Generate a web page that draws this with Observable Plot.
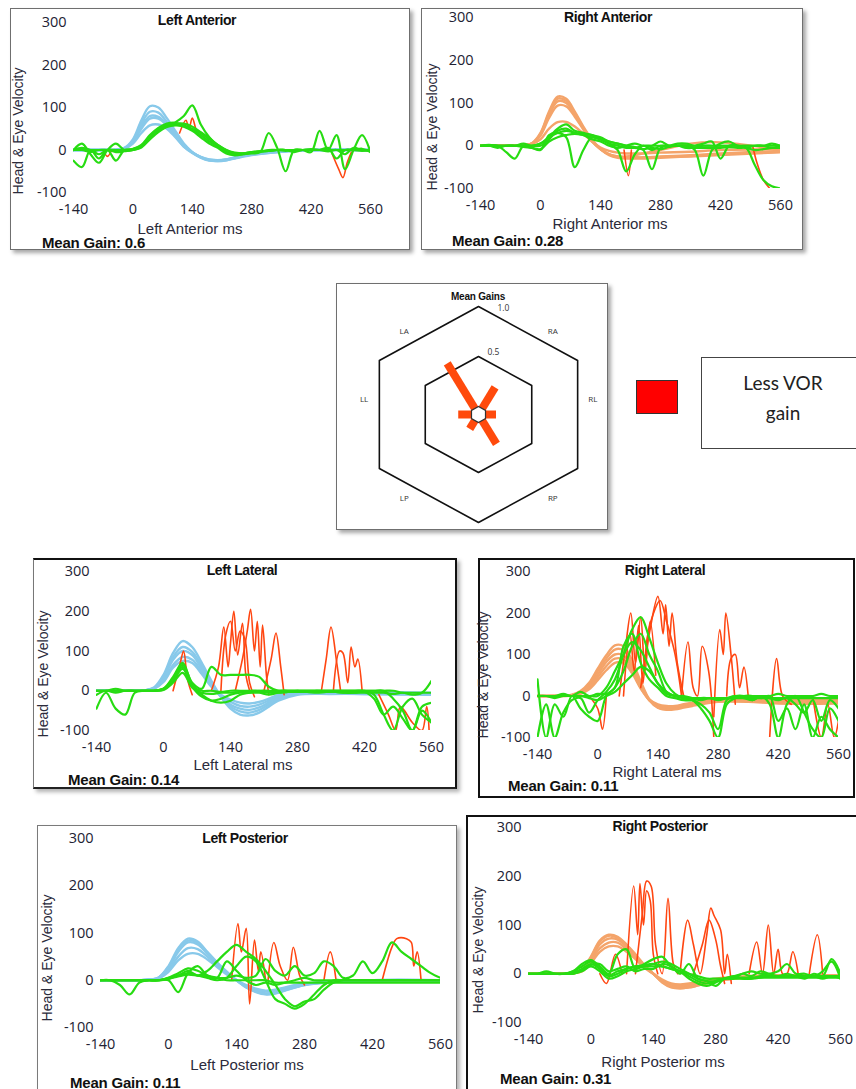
<!DOCTYPE html>
<html><head><meta charset="utf-8">
<script src="https://cdn.jsdelivr.net/npm/d3@7"></script>
<script src="https://cdn.jsdelivr.net/npm/@observablehq/plot@0.6"></script>
<style>
html,body{margin:0;padding:0;background:#fff;}
body{width:856px;height:1089px;position:relative;overflow:hidden;font-family:"Liberation Sans",Arial,sans-serif;}
.panel{position:absolute;background:#fff;}
.panel svg{position:absolute;left:0;top:0;overflow:visible;}
.frame{position:absolute;left:0;top:0;right:0;bottom:0;box-sizing:border-box;pointer-events:none;}
.t{position:absolute;white-space:nowrap;transform:translate(-50%,-50%);color:#111;}
.title{font-weight:bold;font-size:14px;letter-spacing:-0.4px;}
.mg{font-weight:bold;font-size:15px;letter-spacing:-0.2px;transform:translate(0,-50%);}
.xl{font-size:15px;color:#2b2b3b;}
.yl{font-size:14px;color:#2b2b3b;transform:translate(-50%,-50%) rotate(-90deg);}
</style></head>
<body>
<script>
// ---------------- DATA ----------------
const tickX = [-140, 0, 140, 280, 420, 560];
const tickY = [-100, 0, 100, 200, 300];
const panelTitles = ["Left Anterior", "Right Anterior", "Left Lateral", "Right Lateral", "Left Posterior", "Right Posterior"];
const axisTitles = ["Left Anterior ms", "Right Anterior ms", "Left Lateral ms", "Right Lateral ms", "Left Posterior ms", "Right Posterior ms"];
const yTitle = "Head & Eye Velocity";
const meanGains = ["0.6", "0.28", "0.14", "0.11", "0.11", "0.31"];

// head-velocity sample times (ms)
const tHead = [-140,-100,-60,-40,-20,0,20,40,60,80,100,120,140,160,180,200,220,240,280,350,420,560];
// eye-velocity sample times (ms)
const tEye = [-140,-120,-100,-80,-60,-40,-20,0,20,40,60,80,
              100,120,140,160,180,200,220,240,260,280,300,320,
              340,360,380,400,420,440,460,480,500,520,540,560];

// Left Anterior
const laHead = [
  [0,0,0,1,5,25,70,103,100,75,45,15,-5,-18,-25,-26,-24,-20,-12,-4,-1,0],
  [0,0,0,1,4,20,55,80,78,60,35,10,-6,-17,-23,-24,-22,-18,-10,-3,0,0],
  [0,0,0,0,3,18,50,74,74,58,33,8,-7,-18,-24,-25,-23,-18,-10,-3,0,0],
  [0,0,0,0,3,15,40,58,60,50,30,8,-6,-16,-22,-24,-22,-17,-10,-3,0,0],
  [0,0,0,1,4,22,62,90,88,66,40,12,-5,-17,-24,-26,-24,-19,-11,-4,0,0]
];
const laEye = [
  [-25,-40,0,-20,0,-25,0,2,10,30,48,58, 60,55,45,30,15,5,-8,-12,-10,-6,-4,-2, 0,0,0,0,0,0,0,0,0,0,-2,0],
  [0,15,-10,-30,0,15,0,3,12,35,52,62, 64,58,48,35,20,8,-5,-10,-8,-5,-3,-2, 0,0,0,0,0,0,0,0,0,0,0,0],
  [0,0,-5,0,0,0,0,0,8,28,45,55, 65,80,105,60,30,10,-5,-12,-10,-8,-5,40, 5,-50,0,0,-5,45,0,35,-45,0,35,-5],
  [0,5,0,-10,0,-5,-3,0,6,25,42,54, 58,56,50,40,25,12,0,-8,-8,-5,-3,-2, 0,-2,0,0,2,0,5,-20,0,0,3,-5],
  [0,0,0,0,0,0,-2,0,10,32,50,60, 62,62,55,42,28,12,0,-6,-8,-6,-4,0, 0,0,-5,0,0,0,-3,0,-10,5,0,-2]
];
const laSacc = [
  [[-70,0],[-60,-15],[-50,0]],
  [[110,40],[125,70],[132,50],[140,75],[150,45],[160,30]],
  [[470,-10],[485,-45],[495,-65],[505,-30],[515,-5]]
];

// Right Anterior
const raHead = [
  [0,0,0,1,6,30,80,115,110,80,45,15,-8,-22,-28,-30,-30,-30,-28,-25,-22,-15],
  [0,0,0,1,5,26,72,104,100,72,40,12,-8,-20,-26,-28,-28,-28,-26,-24,-20,-14],
  [0,0,0,1,5,24,65,94,92,68,38,10,-8,-20,-25,-27,-27,-27,-25,-22,-18,-12],
  [0,0,0,1,4,15,40,55,56,45,28,10,-4,-12,-16,-18,-18,-18,-16,-14,-10,-8],
  [0,0,0,1,5,28,76,110,105,76,42,12,-8,-20,-25,-25,-22,-18,-10,5,8,-10]
];
const raEye = [
  [0,0,0,-15,-30,0,0,5,20,40,50,35, 30,25,20,10,5,0,-5,0,0,0,0,0, 0,-5,0,0,0,0,0,0,0,0,-5,0],
  [0,0,-5,0,0,0,-5,-10,25,30,20,-50, -10,20,15,5,-10,-60,-20,0,-10,0,0,0, 0,-10,-70,-10,5,10,0,0,0,0,5,0],
  [0,2,0,0,0,0,0,0,15,35,40,30, 28,25,15,5,0,-5,-5,-10,-55,-5,0,5, 5,0,0,0,0,0,0,-5,-45,-80,-95,-100],
  [0,0,0,0,0,5,0,5,20,30,35,30, 25,15,10,0,-5,0,5,0,0,10,0,0, 0,0,5,10,-30,0,0,-5,0,0,0,0],
  [0,0,0,0,0,-3,-5,-8,10,20,25,28, 25,20,15,10,5,0,-3,-8,-5,-8,-3,0, -5,-5,-5,-5,-5,-3,-5,-5,-10,-8,-5,-5]
];
const raSacc = [
  [[195,-10],[205,-70],[212,-10]],
  [[495,0],[505,-40],[520,-80],[535,-100]]
];

// Left Lateral
const llHead = [
  [0,0,0,1,8,40,95,125,110,70,25,-15,-45,-60,-62,-55,-40,-25,-10,-8,-8,-10],
  [0,0,0,1,7,35,85,110,98,62,20,-15,-40,-52,-55,-48,-35,-22,-8,-6,-8,-10],
  [0,0,0,1,6,30,78,100,90,55,15,-15,-35,-45,-48,-42,-30,-18,-6,-5,-6,-8],
  [0,0,0,1,5,25,65,85,78,48,12,-12,-28,-38,-40,-35,-25,-14,-4,-3,-5,-6],
  [0,0,0,1,5,22,58,75,70,42,10,-10,-22,-30,-32,-28,-20,-10,-2,-2,-3,-5]
];
const llEye = [
  [-45,-5,-45,-60,-5,0,0,5,35,70,15,-10, -25,-30,-25,-10,-5,0,0,0,0,0,0,0, 0,0,0,0,0,-10,-60,-100,-40,-20,-60,-80],
  [-10,0,-5,0,0,0,0,5,30,65,20,5, 60,40,40,40,40,35,10,0,0,0,0,0, 0,0,0,0,0,0,0,-20,-50,-100,-40,-30],
  [0,0,0,0,0,0,0,3,25,55,10,-15, -25,-20,-10,-5,-5,-5,-10,-5,-3,0,-3,0, -2,-3,-5,-5,-5,-5,-5,-8,-5,-10,-5,25],
  [0,0,0,0,0,0,0,2,20,45,8,-5, -8,-5,-5,-3,-3,-3,-5,-5,-3,-3,-3,-5, -3,-3,-5,-5,-3,-20,-60,-40,-70,-100,-50,-80],
  [0,0,5,0,0,0,0,5,28,60,12,0, 0,-3,0,0,0,0,-3,0,0,0,0,0, 0,0,0,0,0,0,0,0,-5,-5,-5,-5]
];
const llSacc = [
  [[100,0],[115,60],[126,160],[135,60],[140,120],[147,200],[155,90],[165,170],[172,40],[180,0]],
  [[150,0],[165,80],[175,150],[182,205],[190,100],[196,175],[202,60],[207,165],[215,40],[220,-10]],
  [[210,0],[225,80],[235,145],[245,60],[252,-10]],
  [[120,0],[130,140],[140,175],[150,100],[160,150],[170,130],[180,20],[190,-15]],
  [[330,0],[340,80],[350,160],[362,70],[370,0]],
  [[355,0],[368,100],[375,95],[385,20],[392,110],[400,60],[406,80],[415,0]],
  [[20,0],[35,70],[42,100],[50,30],[60,-10]],
  [[450,-10],[470,-60],[485,-100],[495,-40],[520,-80],[540,-100],[550,-40],[555,-100]]
];

// Right Lateral
const rlHead = [
  [0,0,2,10,28,60,90,112,110,75,30,-10,-28,-32,-30,-26,-22,-18,-12,-12,-15,-15],
  [0,0,2,8,24,52,82,100,98,68,25,-10,-25,-30,-28,-24,-20,-16,-10,-10,-12,-12],
  [0,0,1,6,20,45,72,90,88,60,20,-10,-22,-27,-26,-22,-18,-14,-8,-8,-10,-10],
  [0,0,1,5,16,38,62,80,80,55,18,-8,-20,-24,-24,-20,-16,-12,-6,-6,-8,-8],
  [0,0,3,12,32,66,98,122,120,85,35,-8,-28,-33,-32,-28,-24,-20,-14,-14,-18,-18]
];
const rlEye = [
  [40,-100,-20,-50,0,-30,-50,-60,0,20,60,120, 150,100,60,10,0,-5,-10,-20,-40,-80,-10,0, 0,-10,0,-20,-100,-20,0,-40,-80,-100,-30,-60],
  [-100,-20,-100,-40,-10,-5,-40,-10,10,40,100,160, 190,140,80,30,5,-5,-10,-30,-60,-100,-20,-5, 0,0,-5,0,-60,-30,-80,-20,-100,-50,-80,-100],
  [0,0,0,0,0,0,0,0,20,60,100,130, 110,70,30,5,0,-5,-5,-5,-5,-5,-5,-5, -5,-5,-5,-5,-5,-5,-5,-5,-5,-5,-5,-5],
  [0,0,-5,0,0,0,-5,-10,0,10,30,50, 70,60,30,10,0,0,-5,-10,-5,-10,-5,0, -5,-10,0,-5,-10,-5,-20,-40,-10,-60,-10,-30],
  [0,0,0,5,0,10,0,5,5,20,120,150, 80,40,20,0,-5,-10,-10,-5,-5,-5,-5,-5, 0,0,0,0,5,0,0,0,0,5,0,0]
];
const rlSacc = [
  [[50,0],[65,120],[77,200],[88,80],[100,190],[110,60],[122,180],[135,50]],
  [[100,20],[120,150],[140,240],[152,150],[158,220],[166,120],[173,200],[185,80],[200,0]],
  [[60,0],[75,150],[85,60],[95,170],[105,30],[115,140],[130,200],[145,230],[160,180],[180,100],[195,0]],
  [[195,0],[210,130],[222,20],[232,0],[243,120],[258,60],[270,-100]],
  [[270,-50],[284,160],[292,100],[298,200],[310,100],[320,-20]],
  [[-20,0],[0,-30],[11,-80],[20,0]],
  [[400,-100],[416,90],[430,0],[450,-20]],
  [[500,0],[520,-100],[535,-20],[550,-100],[560,-60]],
  [[300,0],[310,90],[320,100],[330,20],[340,70],[350,0]]
];

// Left Posterior
const lpHead = [
  [0,0,0,1,6,30,68,88,82,60,38,18,0,-15,-25,-30,-28,-22,-10,-3,0,0],
  [0,0,0,1,5,26,60,80,76,56,35,15,0,-14,-23,-28,-26,-20,-9,-3,0,0],
  [0,0,0,1,5,22,50,68,66,50,32,14,0,-12,-20,-24,-22,-17,-8,-2,0,0],
  [0,0,0,1,4,18,42,56,56,44,28,12,0,-10,-18,-22,-20,-15,-7,-2,0,0],
  [0,0,0,1,6,28,64,84,80,58,36,16,0,-15,-24,-29,-27,-21,-10,-3,0,0]
];
const lpEye = [
  [0,0,0,0,0,0,0,5,15,25,20,10, 5,0,0,0,0,0,-5,-5,-5,-5,-5,-5, -5,-5,-5,-5,-5,-5,-5,-5,-5,-5,-5,-5],
  [0,0,-10,-30,-5,0,0,0,-25,15,30,10, 5,40,20,0,-10,-5,-10,-5,0,5,0,0, 0,0,0,0,0,0,0,0,0,0,0,0],
  [0,0,0,0,0,0,0,5,10,20,10,20, 40,60,75,60,45,20,-10,-40,-55,-45,-40,-20, -5,0,0,0,0,0,0,0,0,0,0,0],
  [0,0,0,0,0,0,0,3,10,15,10,5, 0,5,30,50,40,0,-40,-50,-60,-50,-30,-10, 0,0,0,0,0,0,0,0,0,0,0,0],
  [0,0,0,0,0,0,0,3,8,12,10,8, 5,5,10,5,10,45,20,10,30,10,15,40, 30,5,10,40,15,40,80,60,45,30,15,5]
];
const lpSacc = [
  [[130,0],[143,120],[150,60],[160,110],[167,-50],[177,85],[185,20],[190,60],[200,0]],
  [[205,0],[217,80],[230,30],[245,0],[257,70],[270,10],[280,-10]],
  [[320,0],[333,60],[345,0]],
  [[440,0],[460,70],[470,88],[490,88],[500,80],[505,30],[512,60],[520,0]]
];

// Right Posterior
const rpHead = [
  [0,0,0,1,8,35,68,80,76,60,40,18,0,-18,-28,-30,-28,-24,-15,-8,-5,-5],
  [0,0,0,1,7,30,60,72,70,55,36,16,0,-16,-26,-28,-26,-22,-14,-7,-4,-5],
  [0,0,0,1,6,26,52,64,64,50,32,14,0,-14,-22,-25,-23,-20,-12,-6,-4,-4],
  [0,0,0,1,5,22,45,56,56,45,30,12,0,-12,-20,-22,-20,-17,-10,-5,-3,-3],
  [0,0,0,1,8,33,66,78,74,58,38,16,0,-17,-27,-30,-28,-24,-15,-8,-5,-5]
];
const rpEye = [
  [0,0,0,0,0,5,15,25,10,-5,0,10, 15,15,15,15,10,5,-5,-15,-20,-15,-10,-10, -10,-10,-8,-5,-5,-5,-5,-5,-5,-5,-5,-5],
  [0,0,5,0,0,5,20,28,15,0,40,50, 10,20,30,35,15,5,-10,-20,-25,-18,-10,-5, 0,5,0,0,5,20,0,0,-5,5,25,-10],
  [0,0,0,0,0,0,5,15,5,-10,-5,5, 10,15,20,25,20,10,0,-10,-15,-15,-10,-5, -10,-10,-5,-5,-5,-5,-5,-5,-5,-10,-5,-10],
  [0,0,0,0,0,3,10,20,10,-3,5,10, 15,18,20,15,10,5,0,-5,-10,-10,-10,-8, -8,-8,-8,-8,-8,-8,-8,-8,-8,-8,-8,-8],
  [0,0,0,0,0,0,8,18,20,5,10,15, 5,10,10,20,15,0,20,-10,-15,-25,-10,-10, 0,-5,5,0,-5,0,-5,-10,0,-5,30,0]
];
const rpSacc = [
  [[80,0],[96,180],[105,80],[110,185],[118,100],[125,170],[133,150],[140,40],[150,0]],
  [[100,0],[115,120],[125,190],[135,180],[145,60],[160,0],[173,155],[185,20],[195,0]],
  [[200,0],[217,110],[230,60],[245,0],[260,80],[269,135],[276,120],[291,90],[300,0],[306,40],[315,-20]],
  [[355,0],[372,65],[385,0],[398,100],[410,0],[420,50],[430,0],[440,0],[453,45],[465,0]],
  [[490,0],[508,80],[520,0]],
  [[20,0],[35,-20],[55,40],[70,0]],
  [[230,0],[250,60],[265,110],[280,70],[290,20],[300,-20]]
];

// Mean gains polar summary
const hexTitle = "Mean Gains";
const canals = ["LA", "RA", "RL", "RP", "LP", "LL"];
const canalGains = [0.6, 0.28, 0.11, 0.31, 0.11, 0.14];
const ringGains = [0.5, 1.0];
const ringLabels = ["0.5", "1.0"];
const legendLines = ["Less VOR", "gain"];

// ---------------- STYLE / LAYOUT ----------------
const C = {green: "#27dc12", red: "#ff4611", blue: "#88c9ea", orange: "#f4a46a"};
const heads = [laHead, raHead, llHead, rlHead, lpHead, rpHead];
const eyes = [laEye, raEye, llEye, rlEye, lpEye, rpEye];
const saccs = [laSacc, raSacc, llSacc, rlSacc, lpSacc, rpSacc];
const headColors = [C.blue, C.orange, C.blue, C.orange, C.blue, C.orange];
const layout = [
  {L:10,T:8,R:410,B:250, x0:73,x1:370,y0:22,y1:192, title:[197,20], xl:[190,228], mg:[42,242], yl:[18,131], frame:"border:1.5px solid #6f6f6f;box-shadow:3px 3px 4px rgba(0,0,0,0.35);"},
  {L:421,T:8,R:803,B:250, x0:480,x1:780,y0:17,y1:188, title:[608,17], xl:[610,223], mg:[452,240], yl:[432,127], frame:"border:1.5px solid #6f6f6f;box-shadow:3px 3px 4px rgba(0,0,0,0.35);"},
  {L:33,T:558,R:457,B:789, x0:96,x1:431,y0:571,y1:730, title:[242,570], xl:[243,764], mg:[68,779], yl:[43,674], frame:"border-top:2px solid #111;border-right:2.5px solid #111;border-bottom:2.5px solid #222;border-left:1.5px solid #777;box-shadow:3px 3px 4px rgba(0,0,0,0.3);"},
  {L:478,T:558,R:855,B:798, x0:537,x1:838,y0:571,y1:737, title:[665,570], xl:[667,771], mg:[508,785], yl:[483,675], frame:"border:2px solid #111;"},
  {L:37,T:825,R:457,B:1100, x0:100,x1:440,y0:838,y1:1027, title:[245,838], xl:[247,1064], mg:[70,1082], yl:[47,958], frame:"border:1.5px solid #7a7a7a;box-shadow:3px 3px 4px rgba(0,0,0,0.3);"},
  {L:466,T:815,R:860,B:1100, x0:528,x1:840,y0:827,y1:1022, title:[660,826], xl:[663,1061], mg:[500,1078], yl:[478,950], frame:"border:2px solid #111;"}
];

function grid(times, arrs) { return arrs.flatMap((a, i) => a.map((v, j) => ({t: times[j], v, id: i}))); }
function pairs(arrs) { return arrs.flatMap((a, i) => a.map(([t, v]) => ({t, v, id: i}))); }

function addText(cls, txt, x, y, parent) {
  const d = document.createElement("div");
  d.className = "t " + cls;
  d.textContent = txt;
  d.style.left = x + "px"; d.style.top = y + "px";
  parent.appendChild(d);
}

layout.forEach((g, k) => {
  const W = g.R - g.L, H = g.B - g.T;
  const div = document.createElement("div");
  div.className = "panel";
  div.style.cssText = `left:${g.L}px;top:${g.T}px;width:${W}px;height:${H}px;`;
  const chart = Plot.plot({
    width: W, height: H,
    marginLeft: g.x0 - g.L, marginRight: g.R - g.x1,
    marginTop: g.y0 - g.T, marginBottom: g.B - g.y1,
    style: {fontFamily: "'Open Sans', sans-serif", fontSize: "14.5px", color: "#222233", background: "transparent"},
    x: {domain: [-140, 560], ticks: tickX, tickSize: 0, tickPadding: 11, tickFormat: d => String(d), label: null},
    y: {domain: [-100, 300], ticks: tickY, tickSize: 0, tickPadding: 7, tickFormat: d => String(d), label: null},
    marks: [
      Plot.line(grid(tHead, heads[k]), {x: "t", y: "v", z: "id", stroke: headColors[k], strokeWidth: 2.4, curve: "catmull-rom", clip: true}),
      Plot.line(pairs(saccs[k]), {x: "t", y: "v", z: "id", stroke: C.red, strokeWidth: 1.6, curve: "catmull-rom", clip: true}),
      Plot.line(grid(tEye, eyes[k]), {x: "t", y: "v", z: "id", stroke: C.green, strokeWidth: 2.2, curve: "catmull-rom", clip: true})
    ]
  });
  div.appendChild(chart);
  const fr = document.createElement("div");
  fr.className = "frame"; fr.style.cssText = g.frame;
  div.appendChild(fr);
  document.body.appendChild(div);
  addText("title", panelTitles[k], g.title[0], g.title[1], document.body);
  addText("xl", axisTitles[k], g.xl[0], g.xl[1], document.body);
  addText("mg", "Mean Gain: " + meanGains[k], g.mg[0], g.mg[1], document.body);
  addText("yl", yTitle, g.yl[0], g.yl[1], document.body);
});

// ---------------- Mean gains hexagon ----------------
{
  const L = 336, T = 283, W = 272, H = 247;
  const cx = 142, cy = 131; // centre inside panel (px)
  const hole = 0.08;
  const vAng = [90, 30, -30, -90, -150, 150, 90];
  const rad = a => a * Math.PI / 180;
  const rings = ringGains.flatMap((gn, i) => vAng.map(a => ({x: (hole + gn) * Math.cos(rad(a)), y: (hole + gn) * Math.sin(rad(a)), ring: i})));
  const dirAng = {LA: 120, RA: 60, RL: 0, RP: -60, LP: -120, LL: 180};
  const bars = canals.map((c, i) => {
    const len = 0.07 + canalGains[i] * 0.866;
    return {x1: 0, y1: 0, x2: len * Math.cos(rad(dirAng[c])), y2: len * Math.sin(rad(dirAng[c])), c};
  });
  const labAng = {LA: 130, RA: 50, RL: 8, RP: -50, LP: -130, LL: 172};
  const labs = canals.map(c => ({x: 1.09 * Math.cos(rad(labAng[c])), y: 1.09 * Math.sin(rad(labAng[c])), c}));
  const rl = ringGains.map((gn, i) => ({x: 0, y: hole + gn, lab: ringLabels[i]}));
  const div = document.createElement("div");
  div.className = "panel";
  div.style.cssText = `left:${L}px;top:${T}px;width:${W}px;height:${H}px;`;
  const chart = Plot.plot({
    width: W, height: H, margin: 0,
    x: {domain: [-1, 1], range: [cx - 106, cx + 106], axis: null},
    y: {domain: [-1, 1], range: [cy + 100, cy - 100], axis: null},
    style: {fontFamily: "'Open Sans', sans-serif", background: "transparent"},
    marks: [
      Plot.line(rings, {x: "x", y: "y", z: "ring", stroke: "#111", strokeWidth: 1.6}),
      Plot.link(bars, {x1: "x1", y1: "y1", x2: "x2", y2: "y2", stroke: "#ff4a0c", strokeWidth: 8, strokeLinecap: "butt"}),
      Plot.dot([{x: 0, y: 0}], {x: "x", y: "y", symbol: "hexagon", r: 7, fill: "white", stroke: "#333", strokeWidth: 1.2}),
      Plot.text(labs, {x: "x", y: "y", text: "c", fontSize: 8, fill: "#333"}),
      Plot.text(rl.filter(d => d.lab === "1.0"), {x: "x", y: "y", text: "lab", fontSize: 8.5, fill: "#333", textAnchor: "start", dx: 19, dy: 2}),
      Plot.text(rl.filter(d => d.lab === "0.5"), {x: "x", y: "y", text: "lab", fontSize: 8.5, fill: "#333", textAnchor: "start", dx: 9, dy: -4})
    ]
  });
  div.appendChild(chart);
  const fr = document.createElement("div");
  fr.className = "frame";
  fr.style.cssText = "border:1.5px solid #6f6f6f;box-shadow:3px 3px 4px rgba(0,0,0,0.35);";
  div.appendChild(fr);
  document.body.appendChild(div);
  const t = document.createElement("div");
  t.className = "t";
  t.style.cssText = "left:478px;top:296px;font-weight:bold;font-size:10px;letter-spacing:-0.2px;";
  t.textContent = hexTitle;
  document.body.appendChild(t);
}

// ---------------- Legend ----------------
{
  const sq = document.createElement("div");
  sq.style.cssText = "position:absolute;left:636px;top:380px;width:42px;height:34px;background:#ff0000;border:1px solid #333;box-sizing:border-box;";
  document.body.appendChild(sq);
  const box = document.createElement("div");
  box.style.cssText = "position:absolute;left:701px;top:357px;width:170px;height:92px;border:1px solid #444;box-sizing:border-box;";
  document.body.appendChild(box);
  const txt = document.createElement("div");
  txt.style.cssText = "position:absolute;left:701px;top:368px;width:164px;text-align:center;font-family:Lato,'Open Sans',sans-serif;font-size:19px;line-height:30px;color:#222;";
  txt.innerHTML = legendLines.map(s => `<div>${s}</div>`).join("");
  document.body.appendChild(txt);
}
</script>
</body></html>
